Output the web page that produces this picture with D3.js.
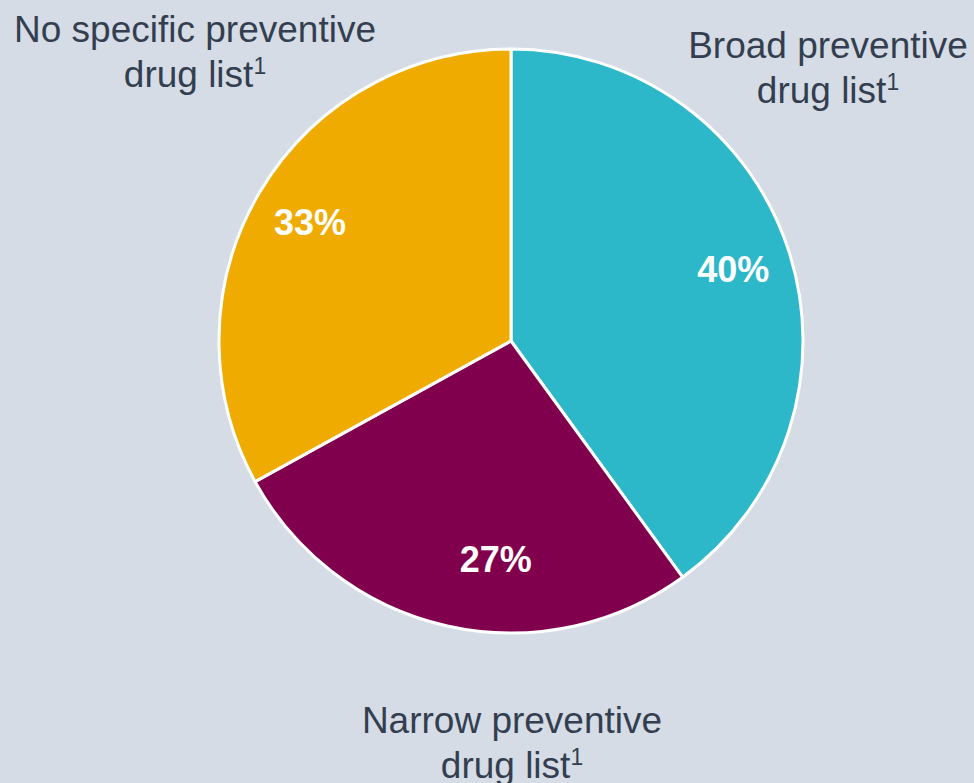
<!DOCTYPE html>
<html>
<head>
<meta charset="utf-8">
<script src="https://cdn.jsdelivr.net/npm/d3@7"></script>
<style>
  html, body { margin: 0; padding: 0; background: #D6DCE5; }
  svg { display: block; }
</style>
</head>
<body>
<svg id="chart" width="974" height="783"></svg>
<script>
// Share of plans by preventive drug list type
const categories = ["Broad preventive", "Narrow preventive", "No specific preventive"];
const shares = [40, 27, 33];
const colors = ["#2CB8C9", "#80004D", "#F0AB00"];

const svg = d3.select("#chart");
const cx = 511, cy = 341, r = 292;

const pie = d3.pie().sort(null).value(d => d.value);
const data = pie(categories.map((c, i) => ({ name: c, value: shares[i], color: colors[i] })));
const arc = d3.arc().innerRadius(0).outerRadius(r);

const g = svg.append("g").attr("transform", `translate(${cx},${cy})`);

g.selectAll("path.slice")
  .data(data)
  .join("path")
  .attr("class", "slice")
  .attr("d", arc)
  .attr("fill", d => d.data.color)
  .attr("stroke", "#FFFFFF")
  .attr("stroke-width", 3)
  .attr("stroke-linejoin", "round");

// Percentage labels inside slices: radius factor and angle nudge (radians) per slice
const valueRadius = [0.80, 0.75, 0.80];
const valueNudge = [0, -0.15, 0];
g.selectAll("text.value")
  .data(data)
  .join("text")
  .attr("class", "value")
  .attr("transform", (d, i) => {
    const a = (d.startAngle + d.endAngle) / 2 + valueNudge[i];
    const rr = r * valueRadius[i];
    return `translate(${Math.sin(a) * rr},${-Math.cos(a) * rr})`;
  })
  .attr("text-anchor", "middle")
  .attr("dy", "0.36em")
  .attr("font-family", "Liberation Sans, Arial, sans-serif")
  .attr("font-weight", "bold")
  .attr("font-size", 36)
  .attr("fill", "#FFFFFF")
  .text(d => d.data.value + "%");

// Category labels outside the pie
const labelPos = [
  { x: 828, y: 58 },
  { x: 512, y: 733 },
  { x: 195, y: 42 }
];
const labels = svg.selectAll("text.cat")
  .data(data)
  .join("text")
  .attr("class", "cat")
  .attr("text-anchor", "middle")
  .attr("font-family", "Liberation Sans, Arial, sans-serif")
  .attr("font-size", 37)
  .attr("fill", "#333F50");

labels.each(function (d, i) {
  const t = d3.select(this);
  const p = labelPos[i];
  t.append("tspan").attr("x", p.x).attr("y", p.y).text(d.data.name);
  const l2 = t.append("tspan").attr("x", p.x).attr("y", p.y + 45);
  l2.append("tspan").text("drug list");
  l2.append("tspan").attr("dy", -13).attr("font-size", 23).text("1");
});
</script>
</body>
</html>
